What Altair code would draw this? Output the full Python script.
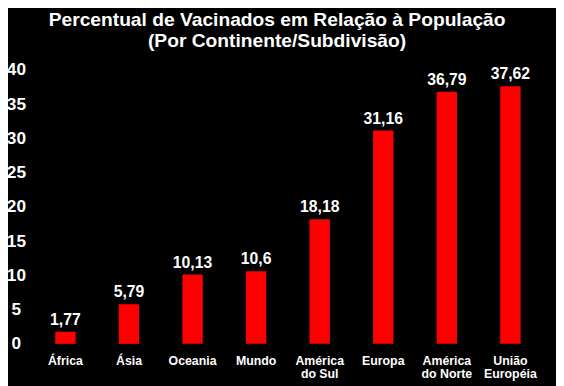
import altair as alt
import pandas as pd

categories = ["África", "Ásia", "Oceania", "Mundo", "América do Sul",
              "Europa", "América do Norte", "União Européia"]
values = [1.77, 5.79, 10.13, 10.6, 18.18, 31.16, 36.79, 37.62]
value_labels = ["1,77", "5,79", "10,13", "10,6", "18,18", "31,16", "36,79", "37,62"]
y_ticks = [0, 5, 10, 15, 20, 25, 30, 35, 40]
title_lines = ["Percentual de Vacinados em Relação à População",
               "(Por Continente/Subdivisão)"]

df = pd.DataFrame({"cat": categories, "val": values, "lab": value_labels})

FONT = "Liberation Sans"

label_expr = ("indexof(datum.label,' ') > 0 ? "
              "[substring(datum.label,0,indexof(datum.label,' ')), "
              "substring(datum.label,indexof(datum.label,' ')+1)] : datum.label")

x = alt.X("cat:N", sort=categories, title=None,
          scale=alt.Scale(paddingInner=0.68, paddingOuter=0.34),
          axis=alt.Axis(labelAngle=0, labelExpr=label_expr, labelFont=FONT,
                        labelFontSize=12.5, labelFontWeight="bold",
                        labelColor="white", labelLineHeight=13,
                        labelBaseline="middle", labelPadding=17,
                        labelOverlap=False,
                        ticks=False, tickSize=0, domain=False, grid=False))
y = alt.Y("val:Q", title=None,
          scale=alt.Scale(domain=[0, 40], nice=False),
          axis=alt.Axis(values=y_ticks, labelFont=FONT, labelFontSize=17.5,
                        labelFontWeight="bold", labelColor="white",
                        labelAlign="center", labelBaseline="middle",
                        labelPadding=18, labelOverlap=False,
                        ticks=False, tickSize=0,
                        domain=False, grid=False))

bars = alt.Chart(df).mark_bar(color="#FF0000").encode(x=x, y=y)
texts = alt.Chart(df).mark_text(
    color="white", font=FONT, fontSize=16, fontWeight="bold",
    baseline="alphabetic", align="center", dy=-7
).encode(x=x, y=y, text="lab:N")

chart = alt.layer(bars, texts).properties(
    width=516, height=278,
    title=alt.TitleParams(text=title_lines, font=FONT, fontSize=19.5,
                          fontWeight="bold", color="white", lineHeight=21,
                          anchor="middle", dx=-11, offset=10),
    background="black",
    padding={"left": 26, "top": 60, "right": 14, "bottom": 40},
    autosize=alt.AutoSizeParams(type="none"),
).configure_view(stroke=None)

chart.save("out.html", embed_options={"renderer": "svg", "actions": False})
